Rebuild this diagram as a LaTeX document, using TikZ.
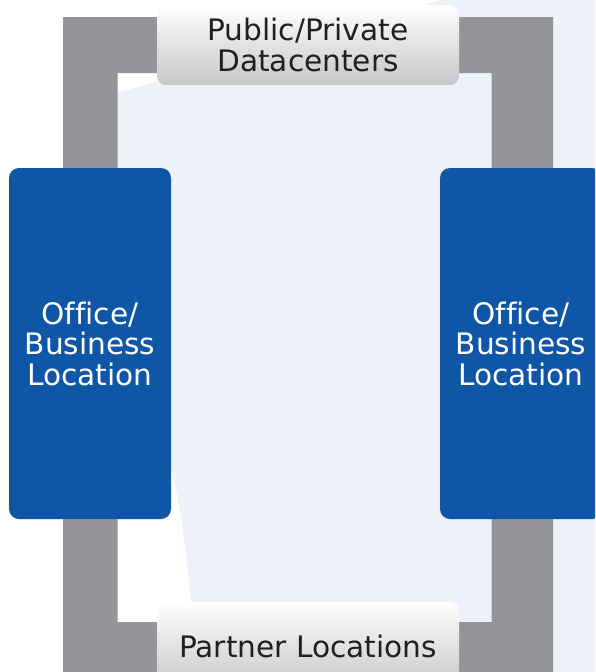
\documentclass[tikz,border=0pt]{standalone}
\usepackage{fontspec}
\setmainfont[Ligatures=NoCommon]{DejaVu Sans}
\definecolor{lightbg}{RGB}{238,241,249}
\definecolor{framegray}{RGB}{147,149,152}
\definecolor{boxblue}{RGB}{15,86,166}
\definecolor{boxgray}{RGB}{197,198,200}
\definecolor{textdark}{RGB}{35,31,32}
\tikzset{
  sitebox/.style={fill=boxblue, rounded corners=10pt, inner sep=0pt,
    minimum width=162pt, minimum height=351pt, text=white, align=center,
    font=\fontsize{29.6}{30.5}\selectfont},
  tabbox/.style={top color=white, bottom color=boxgray, rounded corners=9pt,
    inner sep=0pt, minimum width=302pt, text=textdark, align=center,
    font=\fontsize{29.6}{31}\selectfont},
  ringline/.style={fill=framegray, even odd rule}
}
\begin{document}
\begin{tikzpicture}[x=1pt,y=-1pt]
\useasboundingbox (0,0) rectangle (595,672);
\clip (0,0) rectangle (595,672);
\fill[white] (0,0) rectangle (595,672);
% light sheet behind
\fill[lightbg] (78,104) -- (459.7,-5) -- (600,-5) -- (600,680) -- (197,680)
  plot[smooth] coordinates {(197,680) (191,600) (183,530) (172,470) (150,380) (112,250) (78,104)} -- cycle;
% ring connecting the locations
\fill[ringline] (63,17) rectangle (553,690) (117.5,73) rectangle (491.5,622);
% nodes
\node[tabbox, minimum height=80pt] (dc) at (308,45) {Public/Private\\Datacenters};
\node[sitebox] (left) at (90,343.5) {Office/\\Business\\Location};
\node[sitebox] (right) at (521,343.5) {Office/\\Business\\Location};
\node[tabbox, minimum height=88pt] (partner) at (308,646) {Partner Locations};
\end{tikzpicture}
\end{document}
